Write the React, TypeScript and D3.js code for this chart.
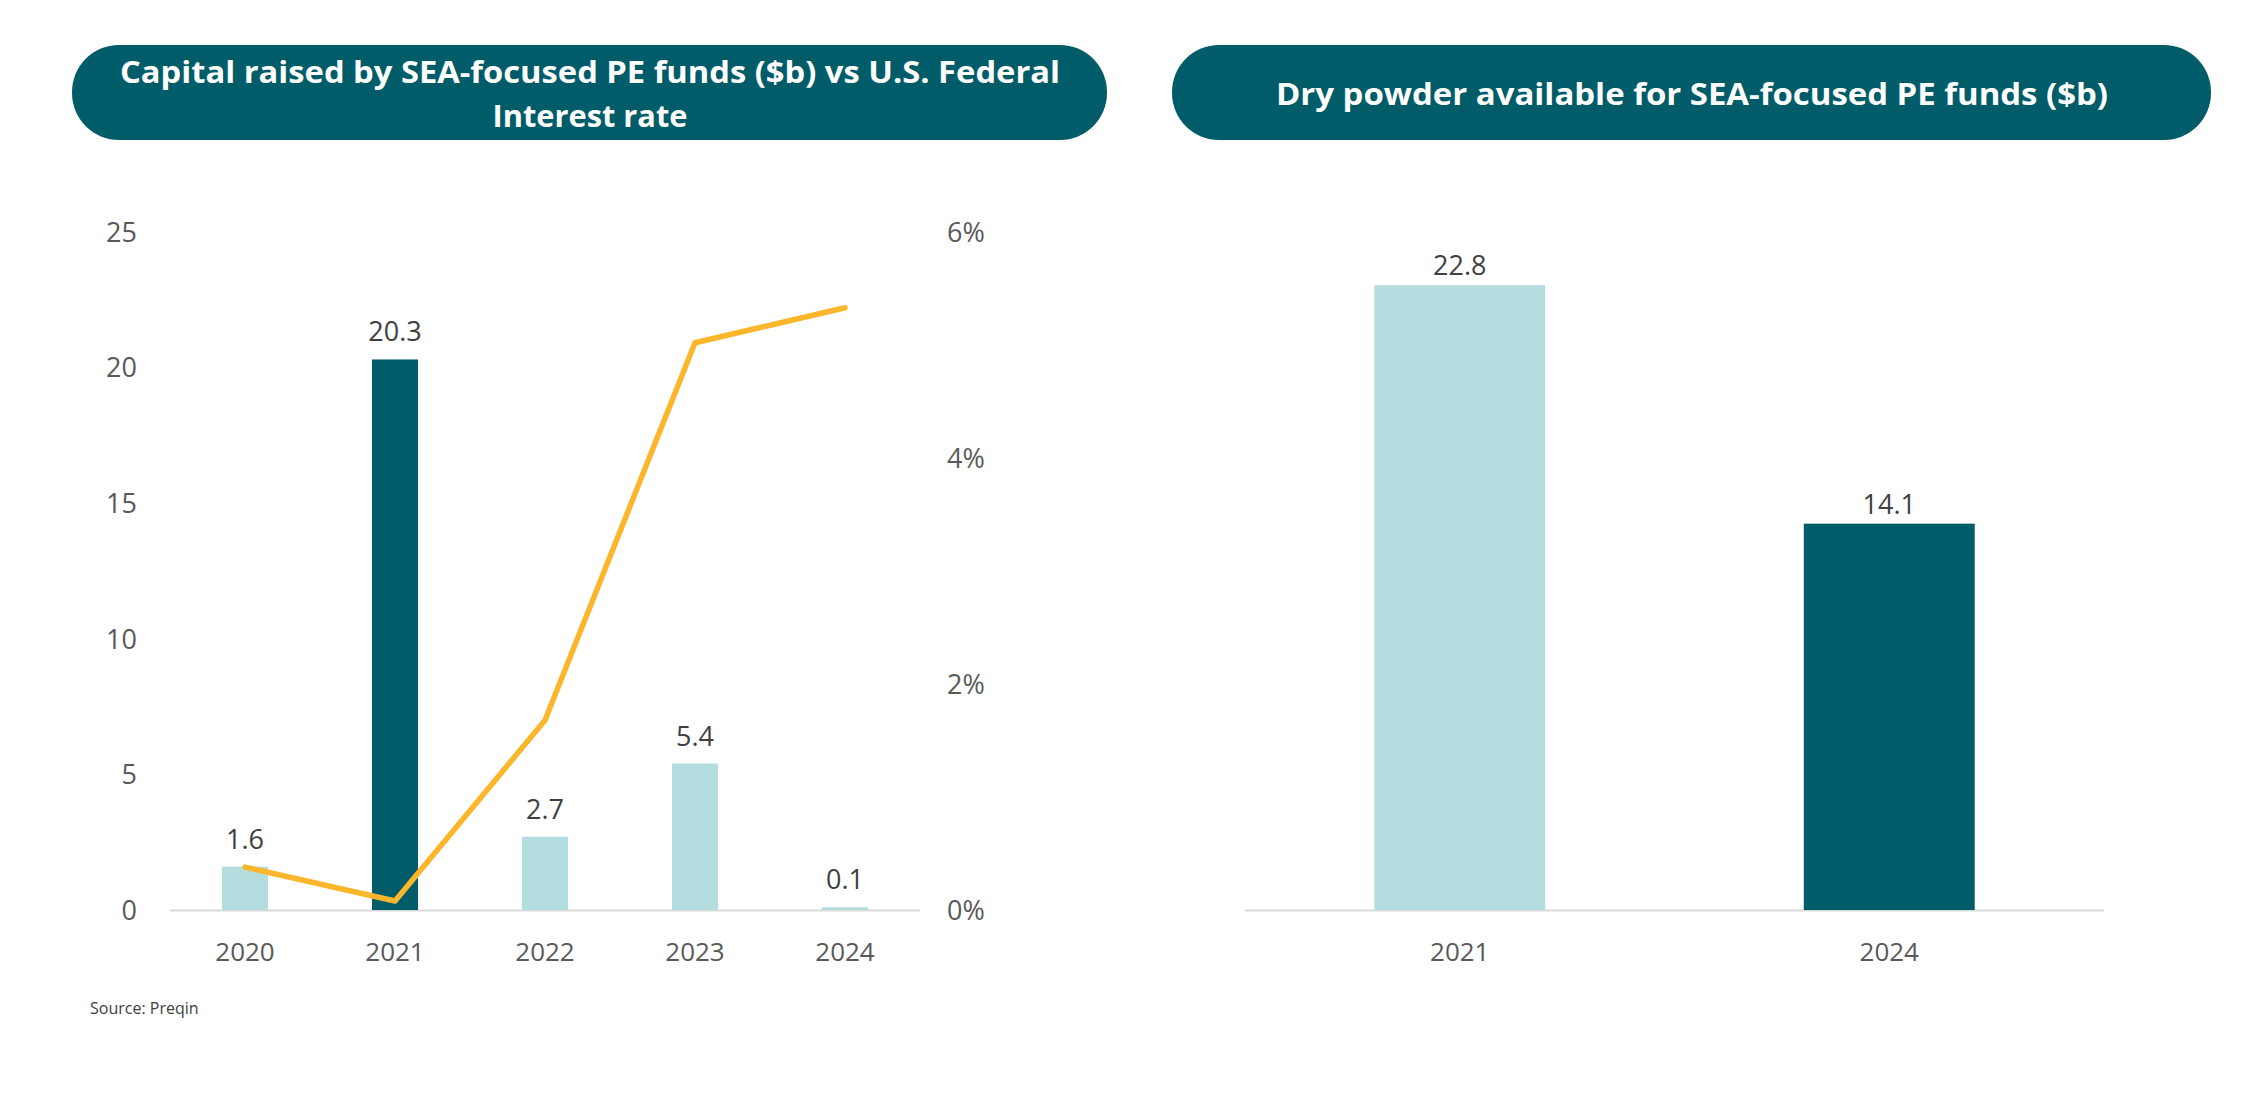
import React from "react";
import * as d3 from "d3";

const years = ["2020", "2021", "2022", "2023", "2024"];
const capitalRaised = [1.6, 20.3, 2.7, 5.4, 0.1];
const fedRate = [0.38, 0.08, 1.68, 5.02, 5.33];
const highlightYear = "2021";
const leftTicks = [0, 5, 10, 15, 20, 25];
const rightTicks = [0, 2, 4, 6];

const dryYears = ["2021", "2024"];
const dryPowder = [22.8, 14.1];
const dryColors = ["light", "dark"];

const leftTitle = ["Capital raised by SEA-focused PE funds ($b) vs U.S. Federal", "Interest rate"];
const rightTitle = "Dry powder available for SEA-focused PE funds ($b)";
const sourceText = "Source: Preqin";

const DARK = "#005C69";
const LIGHT = "#B3DDDF";
const ORANGE = "#FBB62B";
const TICK = "#595959";
const LABEL = "#404040";
const FONT = "'Open Sans', 'Noto Sans', sans-serif";

export default function App() {
  const W = 2264;
  const H = 1108;

  // Left chart
  const x = d3.scaleBand<string>().domain(years).range([170, 920]).padding(0);
  const y = d3.scaleLinear().domain([0, 25]).range([910, 232]);
  const yR = d3.scaleLinear().domain([0, 6]).range([910, 232]);
  const bw = x.bandwidth() * 0.307;
  const line = d3
    .line<number>()
    .x((_, i) => (x(years[i]) as number) + x.bandwidth() / 2)
    .y((d) => yR(d));

  // Right chart
  const x2 = d3.scaleBand<string>().domain(dryYears).range([1245, 2104]).padding(0);
  const y2 = d3.scaleLinear().domain([0, 25]).range([910, 225]);
  const bw2 = x2.bandwidth() * 0.398;

  return (
    <svg
      width={W}
      height={H}
      viewBox={`0 0 ${W} ${H}`}
      style={{ position: "absolute", left: 0, top: 0, background: "#fff" }}
      fontFamily={FONT}
    >
      <rect width={W} height={H} fill="#fff" />
      {/* Title pills */}
      <rect x={72} y={45} width={1035} height={95} rx={47} ry={47} fill={DARK} />
      <text x={590} y={83} textAnchor="middle" fill="#fff" fontSize={31} fontWeight={700} textLength={940} lengthAdjust="spacingAndGlyphs">
        {leftTitle[0]}
      </text>
      <text x={590} y={127} textAnchor="middle" fill="#fff" fontSize={31} fontWeight={700} textLength={195} lengthAdjust="spacingAndGlyphs">
        {leftTitle[1]}
      </text>
      <rect x={1172} y={45} width={1039} height={95} rx={47} ry={47} fill={DARK} />
      <text x={1692} y={105} textAnchor="middle" fill="#fff" fontSize={31} fontWeight={700} textLength={832} lengthAdjust="spacingAndGlyphs">
        {rightTitle}
      </text>

      {/* Left chart axes */}
      {leftTicks.map((t) => (
        <text key={"l" + t} x={137} y={y(t)} dy="0.36em" textAnchor="end" fill={TICK} fontSize={27}>
          {t}
        </text>
      ))}
      {rightTicks.map((t) => (
        <text key={"r" + t} x={947} y={yR(t)} dy="0.36em" textAnchor="start" fill={TICK} fontSize={27}>
          {t + "%"}
        </text>
      ))}
      <line x1={170} x2={920} y1={y(0) + 0.5} y2={y(0) + 0.5} stroke="#D9D9D9" strokeWidth={2} />
      {years.map((yr) => (
        <text key={"x" + yr} x={(x(yr) as number) + x.bandwidth() / 2} y={952} dy="0.36em" textAnchor="middle" fill={TICK} fontSize={26}>
          {yr}
        </text>
      ))}
      {/* Bars */}
      {years.map((yr, i) => {
        const cx = (x(yr) as number) + x.bandwidth() / 2;
        const v = capitalRaised[i];
        return (
          <g key={"b" + yr}>
            <rect x={cx - bw / 2} y={y(v)} width={bw} height={y(0) - y(v)} fill={yr === highlightYear ? DARK : LIGHT} />
            <text x={cx} y={y(v) - 18} textAnchor="middle" fill={LABEL} fontSize={27}>
              {v.toFixed(1)}
            </text>
          </g>
        );
      })}
      {/* Line */}
      <path d={line(fedRate) || ""} fill="none" stroke={ORANGE} strokeWidth={5.5} strokeLinejoin="round" strokeLinecap="round" />

      {/* Right chart */}
      <line x1={1245} x2={2104} y1={y2(0) + 0.5} y2={y2(0) + 0.5} stroke="#D9D9D9" strokeWidth={2} />
      {dryYears.map((yr, i) => {
        const cx = (x2(yr) as number) + x2.bandwidth() / 2;
        const v = dryPowder[i];
        return (
          <g key={"d" + yr}>
            <rect x={cx - bw2 / 2} y={y2(v)} width={bw2} height={y2(0) - y2(v)} fill={dryColors[i] === "dark" ? DARK : LIGHT} />
            <text x={cx} y={y2(v) - 10} textAnchor="middle" fill={LABEL} fontSize={27}>
              {v.toFixed(1)}
            </text>
            <text x={cx} y={952} dy="0.36em" textAnchor="middle" fill={TICK} fontSize={26}>
              {yr}
            </text>
          </g>
        );
      })}

      <text x={90} y={1008} dy="0.36em" fill={LABEL} fontSize={16}>
        {sourceText}
      </text>
    </svg>
  );
}
